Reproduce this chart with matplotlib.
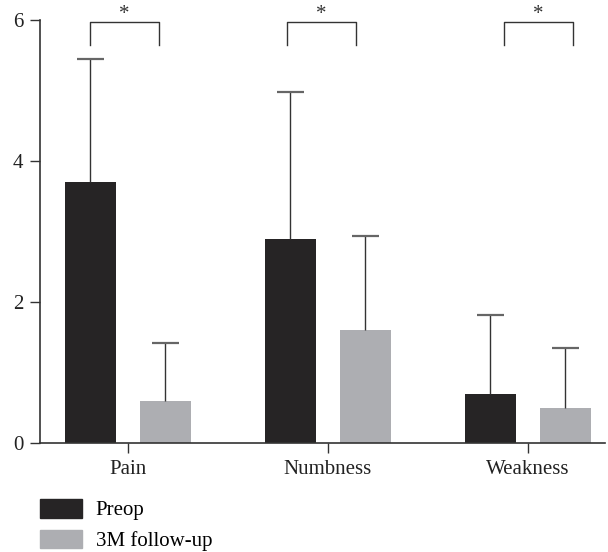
import numpy as np
import matplotlib.pyplot as plt
from matplotlib.patches import Patch

categories = ['Pain', 'Numbness', 'Weakness']
preop = [3.70, 2.89, 0.70]
preop_sd = [1.75, 2.09, 1.12]
followup = [0.60, 1.60, 0.50]
followup_sd = [0.82, 1.34, 0.85]
# significance brackets (left / right leg offsets from category centre)
brackets = [(-0.19, 0.155), (-0.205, 0.14), (-0.12, 0.225)]

plt.rcParams['font.family'] = ['Liberation Serif', 'DejaVu Serif']

dark = '#262425'
grey = '#adaeb2'

fig = plt.figure(figsize=(6.08, 5.52), dpi=100)
ax = fig.add_axes([0.0658, 0.1975, 0.929, 0.7663])

x = np.arange(len(categories))
w = 0.255
off = 0.1875

ax.bar(x - off, preop, w, color=dark, zorder=2)
ax.bar(x + off, followup, w, color=grey, zorder=2)

# upper-only error bars
for xs, vals, sds in [(x - off, preop, preop_sd), (x + off, followup, followup_sd)]:
    tops = np.array(vals) + np.array(sds)
    ax.vlines(xs, vals, tops, color='#333333', lw=1.0, zorder=3)
    ax.hlines(tops, xs - 0.068, xs + 0.068, color='#666666', lw=1.6, zorder=3)

# brackets with stars
for xc, (l, r) in zip(x, brackets):
    ax.plot([xc + l, xc + l, xc + r, xc + r], [5.65, 5.97, 5.97, 5.65],
            color='#333333', lw=1.0, clip_on=False)
    ax.text(xc + (l + r) / 2, 5.95, '*', ha='center', va='bottom',
            fontsize=15, color='#333333', clip_on=False)

ax.set_xlim(-0.44, 2.385)
ax.set_ylim(0, 6)
ax.set_yticks([0, 2, 4, 6])
ax.set_xticks(x)
ax.set_xticklabels(categories)
ax.tick_params(axis='both', labelsize=15, length=7, width=1, color='#333333',
               labelcolor='#222222')
ax.tick_params(axis='x', pad=5)
ax.tick_params(axis='y', pad=5)
for s in ['top', 'right']:
    ax.spines[s].set_visible(False)
for s in ['left', 'bottom']:
    ax.spines[s].set_color('#333333')
    ax.spines[s].set_linewidth(1.2)

handles = [Patch(color=dark, label='Preop'), Patch(color=grey, label='3M follow-up')]
fig.legend(handles=handles, loc='upper left', bbox_to_anchor=(0.066, 0.096), frameon=False,
           fontsize=15, handlelength=2.0, handleheight=1.0, labelspacing=0.45,
           handletextpad=0.67, borderaxespad=0, borderpad=0)

fig.savefig('out.png', dpi=100)
